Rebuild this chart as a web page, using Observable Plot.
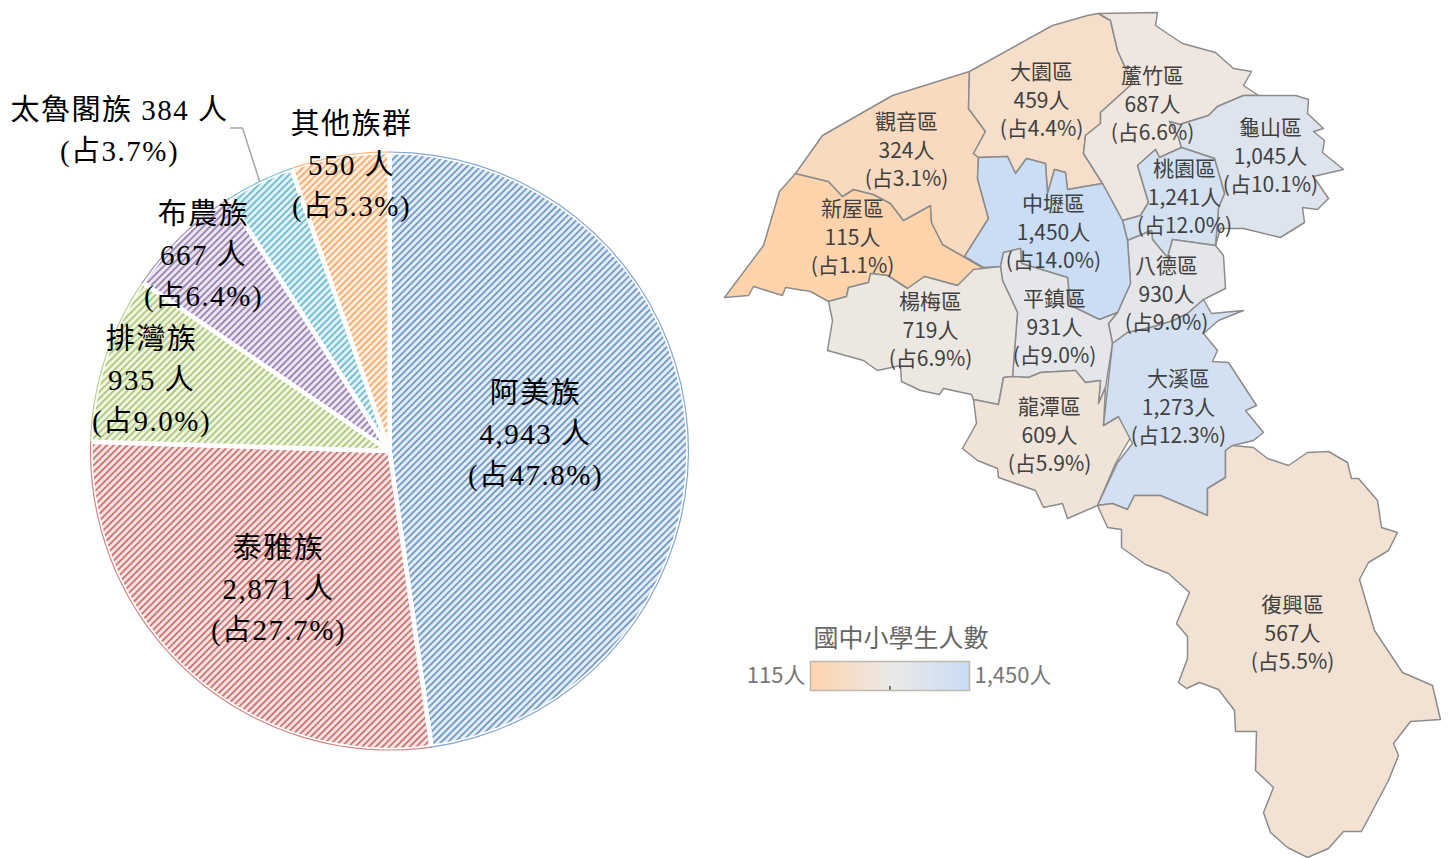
<!DOCTYPE html>
<html><head><meta charset="utf-8">
<script src="https://cdn.jsdelivr.net/npm/d3@7"></script>
<script src="https://cdn.jsdelivr.net/npm/@observablehq/plot@0.6"></script>
<style>
html,body{margin:0;padding:0;background:#fff;}
#stage{position:relative;width:1450px;height:858px;overflow:hidden;}
#stage svg{position:absolute;overflow:visible;background:transparent;}
</style></head><body><div id="stage"></div>
<script>
// ---- pie data
const tribeNames = ["阿美族","泰雅族","排灣族","布農族","太魯閣族","其他族群"];
const tribeCounts = [4943,2871,935,667,384,550];
const tribeShares = ["47.8","27.7","9.0","6.4","3.7","5.3"];
const tribeStripe = ["#4F81BD","#C0504D","#9BBB59","#8064A2","#4BACC6","#F79646"];
const tribeGround = ["#E4ECF6","#F6E3E2","#F0F5E4","#EBE6F1","#E2F2F7","#FEEFE2"];
// label anchors in the pie's own frame (origin at the pie centre)
const tribeLabelAt = [[146,-20.5],[-111,134.5],[-238,-74.5],[-186,-199],[-270,-324],[-38,-289]];
const leaderLine = [[-159,-323],[-147,-323],[-130,-270]];
const pieRadius = 299;

// ---- map data
const districtNames = ["新屋區","觀音區","大園區","蘆竹區","龜山區","桃園區","八德區","中壢區","平鎮區","楊梅區","龍潭區","大溪區","復興區"];
const districtCounts = [115,324,459,687,1045,1241,930,1450,931,719,609,1273,567];
const districtShares = ["1.1","3.1","4.4","6.6","10.1","12.0","9.0","14.0","9.0","6.9","5.9","12.3","5.5"];
const districtLabelAt = [[852,235],[906,148],[1041,98],[1152,102],[1270,154],[1184,195],[1166,292],[1053,230],[1054,325],[930,328],[1049,433],[1178,405],[1292,631]];
const districtOutlines = [
 [795,173,828,181,842,196,853,189,873,194,890,203,903,220,930,205,931,222,942,244,982,267,957,285,924,276,907,288,887,275,870,273,868,282,848,287,846,296,828,301,810,291,785,287,782,295,753,286,748,295,724,297,763,245,779,191],
 [969,71,892,95,822,135,795,173,828,181,842,196,853,189,873,194,890,203,903,220,930,205,931,222,942,244,982,267,964,256,988,218,977,178,978,157,973,153,985,131,968,108],
 [969,71,1052,25,1087,15,1098,13,1110,20,1117,50,1132,83,1100,112,1100,123,1085,135,1083,153,1102,183,1067,189,1065,172,1054,169,1047,193,1045,163,1026,158,1015,173,1007,156,978,157,973,153,985,131,968,108],
 [1098,13,1157,12,1155,25,1182,43,1215,52,1233,68,1251,71,1243,85,1258,95,1243,95,1217,106,1208,115,1179,124,1169,121,1178,137,1181,147,1159,157,1155,149,1137,165,1148,202,1140,215,1122,220,1102,183,1083,153,1085,135,1100,123,1100,112,1132,83,1117,50,1110,20],
 [1258,95,1295,95,1308,99,1307,113,1323,128,1313,131,1324,140,1322,152,1343,169,1313,176,1328,198,1317,209,1302,207,1304,222,1280,237,1243,228,1220,228,1215,245,1218,207,1224,193,1214,158,1181,147,1178,137,1169,121,1179,124,1208,115,1217,106,1243,95],
 [1181,147,1214,158,1224,193,1218,207,1215,245,1172,239,1167,257,1152,239,1151,230,1127,240,1122,220,1140,215,1148,202,1137,165,1155,149,1159,157],
 [1127,240,1151,230,1152,239,1167,257,1172,239,1215,245,1223,255,1225,288,1203,299,1187,313,1173,320,1150,327,1127,332,1112,343,1108,323,1117,312,1130,283],
 [978,157,1007,156,1015,173,1026,158,1045,163,1047,193,1054,169,1065,172,1067,189,1102,183,1122,220,1127,240,1130,283,1117,312,1099,319,1070,305,1067,277,1021,263,1020,248,1003,252,1000,266,983,267,964,256,988,218,977,178],
 [1000,266,1003,252,1020,248,1021,263,1067,277,1070,305,1099,319,1117,312,1108,323,1112,343,1105,387,1098,403,1100,380,1085,382,1075,370,1040,372,1028,377,1012,376,1017,312,1002,280],
 [828,301,846,296,848,287,868,282,870,273,887,275,907,288,924,276,957,285,973,269,1000,266,1002,280,1017,312,1012,376,1003,377,998,404,973,399,971,394,943,388,939,394,920,390,901,381,900,365,877,370,863,360,827,350,832,320],
 [973,399,998,404,1003,377,1012,376,1028,377,1040,372,1075,370,1085,382,1100,380,1098,403,1105,387,1103,425,1118,416,1130,437,1115,463,1097,505,1067,518,1062,503,1043,507,1035,490,998,477,997,468,977,460,962,448,976,423],
 [1203,299,1211,313,1243,310,1218,320,1203,333,1217,350,1212,361,1228,362,1256,405,1245,410,1263,432,1253,440,1232,445,1225,450,1225,477,1207,488,1207,515,1160,495,1134,495,1127,509,1112,503,1097,505,1117,462,1132,443,1118,416,1103,425,1112,343,1127,332,1150,327,1173,320,1187,313],
 [1097,505,1112,503,1127,509,1134,495,1160,495,1207,515,1207,488,1225,477,1225,450,1232,445,1253,447,1267,458,1288,465,1307,452,1328,451,1347,462,1351,478,1358,478,1377,500,1381,527,1397,532,1388,550,1368,562,1359,579,1374,630,1402,672,1432,685,1440,719,1410,721,1393,743,1398,755,1388,780,1361,831,1343,831,1328,848,1307,857,1287,847,1270,832,1263,812,1273,787,1255,770,1256,731,1235,731,1234,710,1218,689,1199,682,1186,688,1178,682,1187,658,1187,636,1176,623,1189,592,1168,573,1145,564,1121,547,1121,529,1107,527]
];

// ---- legend
const legendTitle = "國中小學生人數";
const colorDomain = [115,782,1450];
const colorRange = ["#FFD3AC","#EBE9E7","#CADDF5"];

const stage = document.getElementById("stage");
const fmt = d3.format(",");
const serif = "'Liberation Serif','Noto Sans CJK TC',serif";
const sans = "'Noto Sans CJK TC','Noto Sans',sans-serif";

// ---- pie geometry derived from the counts
const arcs = d3.pie().sort(null)(tribeCounts);
const polar = (a,r)=>({x:r*Math.sin(a), y:-r*Math.cos(a)});
const arcEdge = a => d3.range(0,41).map(k=>polar(a.startAngle+(a.endAngle-a.startAngle)*k/40,pieRadius));
const hatchDefs = () => {
  const defs = d3.create("svg:defs");
  tribeNames.forEach((n,i)=>{
    const p = defs.append("pattern").attr("id","hatch"+i).attr("patternUnits","userSpaceOnUse")
      .attr("width",4.8).attr("height",4.8).attr("patternTransform","rotate(45)");
    p.append("rect").attr("width",4.8).attr("height",4.8).attr("fill",tribeGround[i]);
    p.append("rect").attr("width",1.8).attr("height",4.8).attr("fill",tribeStripe[i]).attr("fill-opacity",0.78);
  });
  return defs.node();
};
const tribeLabels = tribeNames.map((n,i)=>{
  const [x,y]=tribeLabelAt[i];
  const text = n==="太魯閣族" ? `${n} ${tribeCounts[i]} 人\n(占${tribeShares[i]}%)` : `${n}\n${fmt(tribeCounts[i])} 人\n(占${tribeShares[i]}%)`;
  return {x,y,text};
});
const piePlot = Plot.plot({
  width:720,height:858,margin:0,
  x:{domain:[-389,331],range:[0,720],axis:null},
  y:{domain:[-450.5,407.5],range:[0,858],axis:null},
  marks:[
    hatchDefs,
    ...arcs.map((a,i)=>Plot.line([{x:0,y:0},...arcEdge(a)],{x:"x",y:"y",curve:"linear-closed",fill:`url(#hatch${i})`,stroke:"#fff",strokeWidth:4.5})),
    ...arcs.map((a,i)=>Plot.line(arcEdge(a),{x:"x",y:"y",stroke:tribeStripe[i],strokeWidth:1.2,strokeOpacity:0.7})),
    Plot.line(leaderLine,{x:d=>d[0],y:d=>d[1],stroke:"#a6a6a6",strokeWidth:1.5}),
    Plot.text(tribeLabels,{x:"x",y:"y",text:"text",fontSize:29,lineHeight:1.42,fill:"#000",fontFamily:serif,textAnchor:"middle"})
  ]
});
piePlot.style.left="0px";piePlot.style.top="0px";
piePlot.querySelectorAll("text").forEach(t=>t.setAttribute("letter-spacing","1.5"));
stage.append(piePlot);

// ---- map
const mapRows = districtOutlines.flatMap((o,i)=>d3.range(0,o.length,2).map(k=>({name:districtNames[i],value:districtCounts[i],x:o[k],y:o[k+1]})));
const mapLabels = districtNames.map((n,i)=>({x:districtLabelAt[i][0],y:districtLabelAt[i][1],text:`${n}\n${fmt(districtCounts[i])}人\n(占${districtShares[i]}%)`}));
const mapPlot = Plot.plot({
  width:730,height:858,margin:0,
  x:{domain:[720,1450],range:[0,730],axis:null},
  y:{domain:[0,858],range:[0,858],axis:null},
  color:{type:"linear",domain:colorDomain,range:colorRange},
  marks:[
    Plot.line(mapRows,{x:"x",y:"y",z:"name",fill:"value",stroke:"#8c8c8c",strokeWidth:1.5,curve:"linear-closed",strokeLinejoin:"round"}),
    Plot.text(mapLabels,{x:"x",y:"y",text:"text",fontSize:21,lineHeight:1.36,fill:"#404040",fontFamily:sans,textAnchor:"middle"})
  ]
});
mapPlot.style.left="720px";mapPlot.style.top="0px";
stage.append(mapPlot);

// ---- legend ramp
const rampCount = 160;
const rampWidth = 1335/rampCount;
const rampSteps = d3.range(rampCount).map(k=>115+k*rampWidth);
const legendPlot = Plot.plot({
  width:350,height:84,marginLeft:90,marginRight:101,marginTop:46,marginBottom:9,
  x:{domain:[115,1450],axis:null},
  y:{domain:[0,1],axis:null},
  color:{type:"linear",domain:colorDomain,range:colorRange},
  marks:[
    Plot.rect(rampSteps,{x1:d=>d,x2:d=>Math.min(1450,d+rampWidth*2.5),y1:0,y2:1,fill:d=>d,shapeRendering:"crispEdges"}),
    Plot.ruleX([782],{y1:0,y2:0.14,stroke:"#000",strokeWidth:1}),
    Plot.frame({stroke:"#bdb9ad",strokeWidth:1.5}),
    Plot.text([115],{x:d=>d,y:0.5,text:()=>"115人",textAnchor:"end",dx:-5,fontSize:22,fill:"#777",fontFamily:sans}),
    Plot.text([1450],{x:d=>d,y:0.5,text:()=>"1,450人",textAnchor:"start",dx:5,fontSize:22,fill:"#777",fontFamily:sans}),
    Plot.text([782],{x:d=>d,y:1,dy:-23,dx:11,text:()=>legendTitle,fontSize:25,fill:"#666",fontFamily:sans})
  ]
});
legendPlot.style.left="720px";legendPlot.style.top="615px";
stage.append(legendPlot);
</script></body></html>
